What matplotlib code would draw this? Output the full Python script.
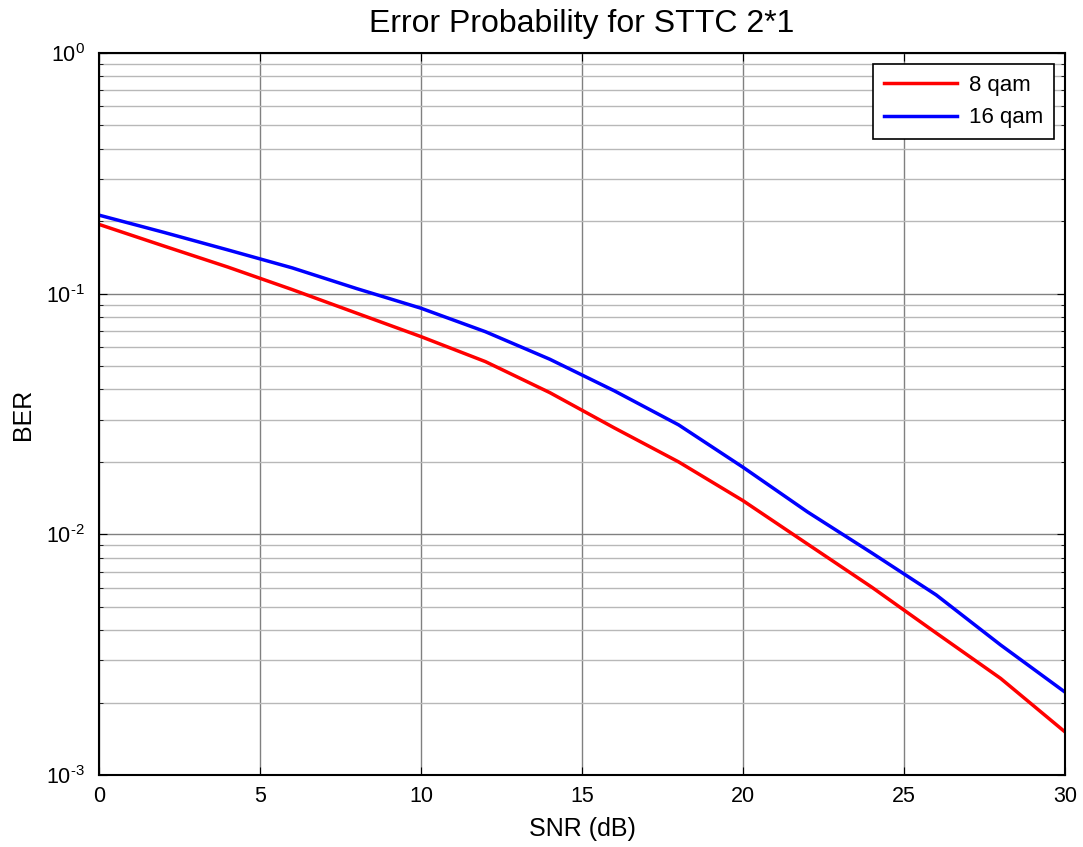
import matplotlib
matplotlib.use("Agg")
import matplotlib.pyplot as plt
from matplotlib.ticker import LogLocator, NullFormatter, FuncFormatter
import numpy as np

plt.rcParams['font.family'] = ['Liberation Sans', 'DejaVu Sans']
plt.rcParams['mathtext.fontset'] = 'custom'
plt.rcParams['mathtext.rm'] = 'Liberation Sans'

# SNR points (dB) and BER
snr = [0, 2, 4, 6, 8, 10, 12, 14, 16, 18, 20, 22, 24, 26, 28, 30]
ber_8qam = [0.194, 0.158, 0.129, 0.104, 0.083, 0.0663, 0.0522, 0.0388, 0.0277, 0.0200,
            0.0138, 0.00912, 0.00603, 0.00389, 0.00252, 0.00151]
ber_16qam = [0.212, 0.180, 0.152, 0.128, 0.105, 0.087, 0.0695, 0.0534, 0.0395, 0.0285,
             0.0190, 0.0124, 0.00837, 0.0056, 0.00347, 0.00221]
labels = ['8 qam', '16 qam']

fig = plt.figure(figsize=(10.83, 8.47), dpi=100)
ax = fig.add_axes([99/1083, 1-775/847, (1065-99)/1083, (775-53)/847])

ax.semilogy(snr, ber_8qam, color='#ff0000', lw=2.5, label=labels[0])
ax.semilogy(snr, ber_16qam, color='#0000ff', lw=2.5, label=labels[1])

ax.set_xlim(0, 30)
ax.set_ylim(1e-3, 1)
ax.set_xticks(range(0, 31, 5))
ax.yaxis.set_major_locator(LogLocator(base=10))
ax.yaxis.set_major_formatter(FuncFormatter(
    lambda v, p: r'$\mathrm{10^{%s}}$' % ('\u2010' + str(-int(round(np.log10(v))))
                                         if v < 1 else '0')))
ax.yaxis.set_minor_locator(LogLocator(base=10, subs=range(2, 10)))
ax.yaxis.set_minor_formatter(NullFormatter())

ax.grid(True, which='major', color='#808080', lw=1)
ax.grid(True, which='minor', axis='y', color='#b8b8b8', lw=1)
ax.set_axisbelow(True)

ax.tick_params(which='both', direction='in', top=True, right=True, labelsize=15.5)
ax.tick_params(which='major', length=6)
ax.tick_params(which='minor', length=3)
ax.tick_params(axis='x', pad=8)
ax.tick_params(axis='y', pad=10)
for s in ax.spines.values():
    s.set_linewidth(1.5)

ax.set_xlabel('SNR (dB)', fontsize=18, labelpad=7)
ax.set_ylabel('BER', fontsize=18, labelpad=8)
ax.set_title('Error Probability for STTC 2*1', fontsize=23, pad=15)

leg = ax.legend(loc='upper right', fontsize=16, fancybox=False, framealpha=1,
                edgecolor='black', borderaxespad=0.5, handlelength=3.3,
                handletextpad=0.5, labelspacing=0.5, borderpad=0.5)
leg.get_frame().set_linewidth(1.2)

fig.savefig('out.png', dpi=100)
